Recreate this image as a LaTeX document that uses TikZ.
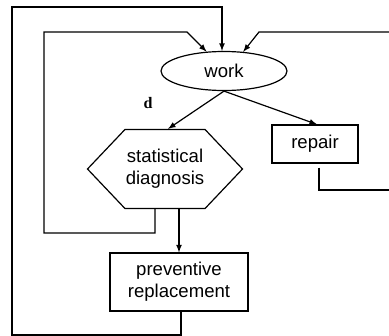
\documentclass[tikz,border=0pt]{standalone}
\usepackage{fontspec}
\setmainfont{Liberation Sans}
\newfontfamily\serifd{Liberation Serif}
\usetikzlibrary{shapes.geometric,shapes.symbols}

\tikzstyle{txt} = [text centered, inner sep=0pt]
\tikzstyle{blk} = [draw, rectangle, align=center, inner sep=0pt]

\begin{document}
\begin{tikzpicture}[x=0.025cm, y=-0.025cm,
>=latex,
line width=0.85pt,
font=\fontsize{13.2}{15.6}\selectfont,
]
\useasboundingbox (0,0) rectangle (389,336);

% WORK
\node[draw, ellipse, inner sep=0pt, minimum width=3.15cm, minimum height=0.975cm] (work) at (224,71) {work};

% DIAGNOSIS
\node[draw, signal, signal to=west and east, signal from=nowhere, signal pointer angle=93,
      align=center, inner sep=0pt, minimum width=3.875cm, minimum height=1.975cm] (diag) at (165,169) {statistical\\diagnosis};
\node[txt, font=\serifd\bfseries\fontsize{11.4}{12}\selectfont] (d) at (148,103) {d};

% REPAIR
\node[blk, minimum width=2.15cm, minimum height=0.95cm] (repair) at (315,144) {repair};

% PREVENTIVE
\node[blk, minimum width=3.45cm, minimum height=1.45cm] (prev) at (179,282) {preventive\\replacement};

% down arrows
\draw[->] (work.south) -- ([xshift=0.075cm]diag.north);
\draw[->] (work.south) -- ([xshift=0.05cm]repair.north);
\draw[->] (prev.north |- diag.south) -- (prev.north);

% OUTER LOOP
\coordinate (top) at (222,7);
\draw[->] ([xshift=0.05cm]prev.south) |- (12,335) |- (top) -- (top |- work.north);

% INNER LOOP
\coordinate (knee) at (187,32);
\draw[->] ([xshift=-0.25cm]diag.south) |- (44,233) |- (knee) -- (work.132);

% REPAIR LOOP
\coordinate (edgeA) at (389,190);
\coordinate (edgeB) at (389,32);
\draw ([xshift=0.1cm,yshift=-0.1cm]repair.south) |- (edgeA);
\draw[->] (edgeB) -- (259,32) -- (work.45);

\end{tikzpicture}
\end{document}
